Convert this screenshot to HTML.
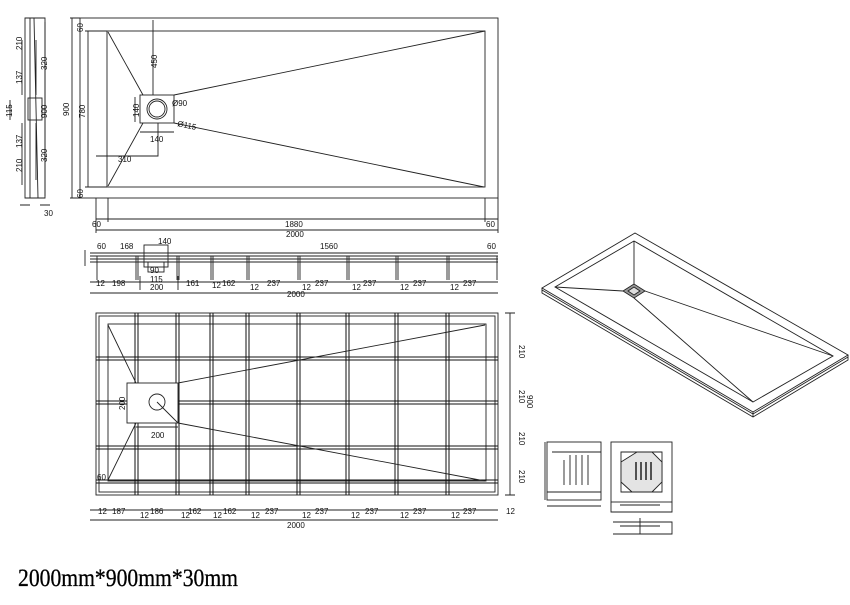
<!DOCTYPE html>
<html><head><meta charset="utf-8"><style>
html,body{margin:0;padding:0;background:#fff;}
svg{display:block;}
text{font-family:"Liberation Sans",sans-serif;font-size:8px;fill:#111;}
</style></head><body>
<svg width="850" height="605" viewBox="0 0 850 605" xmlns="http://www.w3.org/2000/svg">
<g fill="none" stroke="#222" stroke-width="0.9">
<!-- TOP VIEW -->
<rect x="80" y="18" width="418" height="180"/>
<rect x="107" y="31" width="378" height="156"/>
<rect x="140" y="95" width="34" height="28"/>
<circle cx="157" cy="109" r="10"/>
<circle cx="157" cy="109" r="8"/>
<path d="M108 32 L143 95 M174 95 L485 31 M174 123 L484 187 M143 123 L108 186"/>
<path d="M153 20 V95 M135 97 V122 M140 132 H174 M158 123 V156 H96"/>
<path d="M72 18 V198 M88 31 V187 M70 18 H80 M70 198 H80 M85 31 H107 M85 187 H107"/>
<path d="M96 198 V233 M108 198 V222 M485 198 V222 M498 198 V233 M96 219 H498 M96 230 H498"/>
<!-- LEFT SIDE VIEW -->
<path d="M25 18 H45 V198 H25 Z M30 18 V198 M34 18 L38 198 M36 40 V95 M36 123 V180"/>
<rect x="28" y="98" width="14" height="22"/>
<path d="M45 22 V196 M22 40 V95 M22 123 V185 M10 100 V120 M20 205 H30 M40 205 H50"/>
<!-- SECTION VIEW -->
<path d="M90 253 H498 M90 256 H498 M90 259 H498 M90 262 H498"/>
<path d="M97 256 V280 M136 256 V280 M138 256 V280 M177 256 V280 M179 256 V280 M211 256 V280 M213 256 V280 M247 256 V280 M249 256 V280 M298 256 V280 M300 256 V280 M347 256 V280 M349 256 V280 M396 256 V280 M398 256 V280 M447 256 V280 M449 256 V280 M497 256 V280"/>
<rect x="144" y="245" width="24" height="22"/>
<rect x="148" y="262" width="16" height="10"/>
<path d="M90 282 H498 M90 293 H498 M140 276 V290 M178 276 V290 M85 250 V266"/>
<!-- BOTTOM VIEW -->
<rect x="96" y="313" width="402" height="182"/>
<rect x="99" y="316" width="396" height="176"/>
<rect x="108" y="324" width="378" height="157"/>
<g stroke="#111" stroke-width="1">
<path d="M135 313 V495 M138 313 V495 M176 313 V495 M179 313 V495 M210 313 V495 M213 313 V495 M246 313 V495 M249 313 V495 M297 313 V495 M300 313 V495 M346 313 V495 M349 313 V495 M395 313 V495 M398 313 V495 M446 313 V495 M449 313 V495"/>
<path d="M96 357 H498 M96 360 H498 M96 401 H498 M96 404 H498 M96 446 H498 M96 449 H498 M96 480 H498 M96 483 H498"/>
</g>
<rect x="127" y="383" width="51" height="40" fill="#fff"/>
<circle cx="157" cy="402" r="8"/>
<path d="M108 325 L136 383 M178 383 L485 325 M178 423 L485 481 M136 423 L108 480 M157 402 L178 423"/>
<path d="M90 510 H498 M90 520 H498 M510 313 V495 M505 313 H515 M505 495 H515 M136 427 H178"/>
<!-- 3D VIEW -->
<path d="M635 233 L542 288 L753 412 L848 355 Z"/>
<path d="M542 288 V293 L753 417 L848 360 V355 M753 412 V417"/>
<path d="M542 290 L753 414 L848 357"/>
<path d="M634 241 L555 287 L753 402 L833 356 Z"/>
<path d="M634 284 L623 291 L634 298 L645 291 Z" fill="#999"/>
<path d="M634 287 L628 291 L634 295 L640 291 Z" fill="#ddd"/>
<path d="M634 241 V284 M555 287 L623 291 M645 291 L833 356 M634 298 L753 402"/>
<!-- DETAILS -->
<rect x="547" y="442" width="54" height="58"/>
<path d="M547 492 H601 M552 452 H601 M570 455 V485 M576 455 V485 M582 455 V485 M588 455 V485 M564 460 V485 M545 442 V500 M547 506 H601"/>
<rect x="611" y="442" width="61" height="60"/>
<path d="M621 452 H662 V492 H621 Z M611 502 V512 H672 V502 M620 505 H660"/>
<path d="M637 452 L652 452 L662 462 L662 482 L652 492 L632 492 L621 482 L621 462 Z" fill="#e4e4e4"/>
<path d="M636 462 V480 M641 462 V480 M646 462 V480 M651 462 V480" stroke-width="1.5"/>
<path d="M613 522 H672 V534 H613 M620 526 H660 M640 518 V534"/>
</g>
<!-- labels -->
<text x="92" y="227">60</text><text x="285" y="227">1880</text><text x="486" y="227">60</text><text x="286" y="237">2000</text>
<text x="172" y="106">Ø90</text><text x="177" y="126" transform="rotate(12 177 126)">Ø115</text>
<text x="150" y="142">140</text><text x="118" y="162">310</text>
<text transform="translate(69 116) rotate(-90)">900</text>
<text transform="translate(85 118) rotate(-90)">780</text>
<text transform="translate(83 32) rotate(-90)">60</text>
<text transform="translate(83 198) rotate(-90)">60</text>
<text transform="translate(157 68) rotate(-90)">450</text>
<text transform="translate(139 117) rotate(-90)">140</text>
<text transform="translate(22 50) rotate(-90)">210</text>
<text transform="translate(22 172) rotate(-90)">210</text>
<text transform="translate(47 70) rotate(-90)">320</text>
<text transform="translate(47 162) rotate(-90)">320</text>
<text transform="translate(22 84) rotate(-90)">137</text>
<text transform="translate(22 148) rotate(-90)">137</text>
<text transform="translate(12 117) rotate(-90)">115</text>
<text transform="translate(47 118) rotate(-90)">900</text>
<text x="44" y="216">30</text>
<text x="97" y="249">60</text><text x="120" y="249">168</text><text x="158" y="244">140</text><text x="320" y="249">1560</text><text x="487" y="249">60</text>
<text x="150" y="273">90</text><text x="150" y="282">115</text>
<text x="96" y="286">12</text><text x="112" y="286">198</text><text x="150" y="290">200</text><text x="186" y="286">161</text><text x="212" y="288">12</text><text x="222" y="286">162</text>
<text x="250" y="290">12</text><text x="267" y="286">237</text><text x="302" y="290">12</text><text x="315" y="286">237</text><text x="352" y="290">12</text><text x="363" y="286">237</text><text x="400" y="290">12</text><text x="413" y="286">237</text><text x="450" y="290">12</text><text x="463" y="286">237</text>
<text x="287" y="297">2000</text>
<text x="151" y="438">200</text><text x="97" y="480">60</text>
<text transform="translate(125 410) rotate(-90)">200</text>
<text x="98" y="514">12</text><text x="112" y="514">187</text><text x="140" y="518">12</text><text x="150" y="514">186</text><text x="181" y="518">12</text><text x="188" y="514">162</text><text x="213" y="518">12</text><text x="223" y="514">162</text>
<text x="251" y="518">12</text><text x="265" y="514">237</text><text x="302" y="518">12</text><text x="315" y="514">237</text><text x="351" y="518">12</text><text x="365" y="514">237</text><text x="400" y="518">12</text><text x="413" y="514">237</text><text x="451" y="518">12</text><text x="463" y="514">237</text><text x="506" y="514">12</text>
<text x="287" y="528">2000</text>
<text transform="translate(519 345) rotate(90)">210</text><text transform="translate(519 390) rotate(90)">210</text><text transform="translate(519 432) rotate(90)">210</text><text transform="translate(519 470) rotate(90)">210</text><text transform="translate(527 395) rotate(90)">900</text>
<text x="18" y="586" style="font-family:'Liberation Serif',serif;font-size:25px;fill:#000;stroke:#000;stroke-width:0.3" textLength="220" lengthAdjust="spacingAndGlyphs">2000mm*900mm*30mm</text>
</svg>
</body></html>
